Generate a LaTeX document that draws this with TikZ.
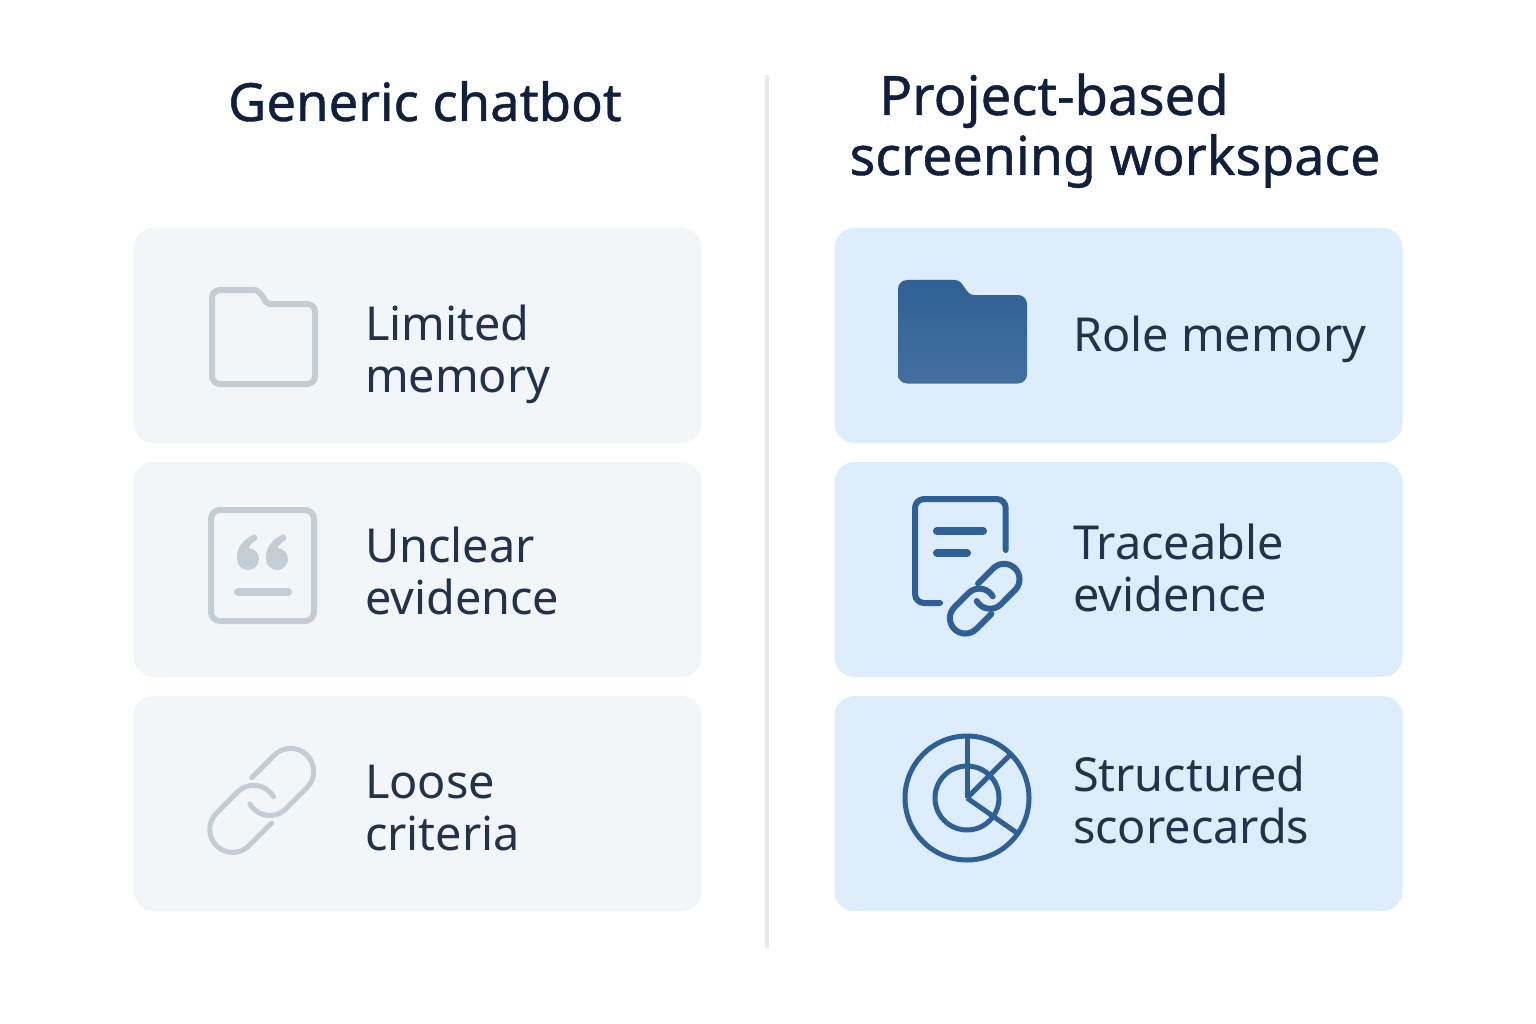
\documentclass[tikz,border=0pt]{standalone}
\usepackage{fontspec}
\setmainfont{Noto Sans}
\newfontfamily\headfont[FakeBold=0.8]{Noto Sans}
\usetikzlibrary{positioning}
\definecolor{graycard}{HTML}{F2F6F8}
\definecolor{bluecard}{HTML}{DEEDFC}
\definecolor{grayicon}{HTML}{C5CDD4}
\definecolor{blueicon}{HTML}{2F6095}
\definecolor{headink}{HTML}{0F1F3C}
\definecolor{itemink}{HTML}{22324C}
\tikzset{
  chainlink/.pic={
    \draw (-10,22.6) -- (12.7,45.3) arc[start angle=135, end angle=-45, radius=23]
      -- (24.3,-8.3) arc[start angle=-45, end angle=-150, radius=23];
    \draw[rotate=180] (-10,22.6) -- (12.7,45.3) arc[start angle=135, end angle=-45, radius=23]
      -- (24.3,-8.3) arc[start angle=-45, end angle=-150, radius=23];
  },
  quotemark/.pic={
    \fill (0,0) circle[radius=11];
    \filldraw[line width=1pt, line join=round] (-10.5,1) .. controls (-11,12) and (-3,20) .. (6,24)
      .. controls (8,24.5) and (10,21) .. (8,19.5) .. controls (3,16) and (0,13) .. (-1,8) -- cycle;
  }
}
\begin{document}
\begin{tikzpicture}[x=1pt, y=1pt, node distance=234pt,
    card/.style={rounded corners=20pt, minimum width=568pt, minimum height=215pt, inner sep=0pt},
    graybox/.style={card, fill=graycard},
    bluebox/.style={card, fill=bluecard},
    head/.style={font=\headfont\fontsize{#1}{60}\selectfont, text=headink, inner sep=0pt, anchor=base},
    item/.style={font=\fontsize{46.8}{52}\selectfont, text=itemink, inner sep=0pt, anchor=west, align=left},
    grayline/.style={draw=grayicon, line width=6pt, line cap=round, line join=round},
    blueline/.style={draw=blueicon, line width=6pt, line cap=round, line join=round}]

  \useasboundingbox (0,0) rectangle (1536,-1024);
  \fill[white] (0,0) rectangle (1536,-1024);

  % Divider
  \coordinate (D1) at (767,-75);
  \coordinate (D2) at (767,-948);
  \draw[line width=4pt, color=graycard!70!grayicon] (D1) -- (D2);

  % Titles
  \node[head=52.6] (G0) at (425,-121) {Generic chatbot};
  \node[head=54.4] (P0) at (1054,-115) {Project-based};
  \node[head=53.7] (P1) at (1115,-175) {screening workspace};

  % Left column
  \node[graybox] (L1) at (417.5,-335.5) {};
  \node[graybox, below of=L1] (L2) {};
  \node[graybox, below of=L2] (L3) {};

  % Right column
  \node[bluebox] (R1) at (1118.5,-335.5) {};
  \node[bluebox, below of=R1] (R2) {};
  \node[bluebox, below of=R2] (R3) {};

  % Labels
  \node[item] (LT1) at ([shift={(231.5,-19)}]L1.west) {Limited\\memory};
  \node[item] (LT2) at ([shift={(231.5,-1)}]L2.west) {Unclear\\evidence};
  \node[item] (LT3) at ([shift={(231.5,-5)}]L3.west) {Loose\\criteria};
  \node[item] (RT1) at ([shift={(238.5,-4)}]R1.west) {Role memory};
  \node[item] (RT2) at ([shift={(238.5,2)}]R2.west) {Traceable\\evidence};
  \node[item] (RT3) at ([shift={(238.5,4)}]R3.west) {Structured\\scorecards};

  % Gray folder
  \draw[grayline, rounded corners=8pt] (254,-290) -- (212,-290) -- (212,-384) -- (315,-384) -- (315,-304) -- (270,-304);
  \draw[grayline] (254,-290) .. controls (262,-290) and (264,-304) .. (270,-304);

  % Gray quote box
  \draw[grayline, rounded corners=9pt] (211,-510) rectangle (314,-621);
  \pic[color=grayicon] at (248,-559) {quotemark};
  \pic[color=grayicon] at (277,-559) {quotemark};
  \draw[line width=8pt, line cap=round, color=grayicon] (238,-592) -- (288,-592);

  % Gray chain
  \pic[grayline, line width=5pt] at (261.7,-800.4) {chainlink};

  % Blue folder
  \path[top color=blueicon, bottom color=blueicon!90!white] (898,-289) arc[start angle=180, end angle=90, radius=9] -- (955,-280)
    .. controls (964,-280) and (965,-295) .. (974,-295) -- (1018,-295) arc[start angle=90, end angle=0, radius=9]
    -- (1027,-374.5) arc[start angle=0, end angle=-90, radius=9] -- (907,-383.5) arc[start angle=-90, end angle=-180, radius=9] -- cycle;

  % Blue document
  \draw[blueline, rounded corners=9pt] (1005.7,-550) -- (1005.7,-499) -- (915,-499) -- (915,-603) -- (940,-603);
  \draw[line width=8pt, line cap=round, color=blueicon] (937,-531) -- (983,-531);
  \draw[line width=8pt, line cap=round, color=blueicon] (937,-553) -- (967,-553);

  % Blue chain
  \pic[blueline, scale=.67] at (984.7,-598.7) {chainlink};

  % Blue scorecard
  \coordinate (S0) at (967,-798);
  \draw[blueline, line width=5pt] (S0) circle[radius=62];
  \draw[blueline, line width=5pt] (S0) circle[radius=32];
  \draw[blueline, line width=5pt, line cap=butt] (S0) -- ++(90:62);
  \draw[blueline, line width=5pt, line cap=butt] (S0) -- ++(45:62);
  \draw[blueline, line width=5pt, line cap=butt] (S0) -- ++(-35:62);

\end{tikzpicture}
\end{document}
